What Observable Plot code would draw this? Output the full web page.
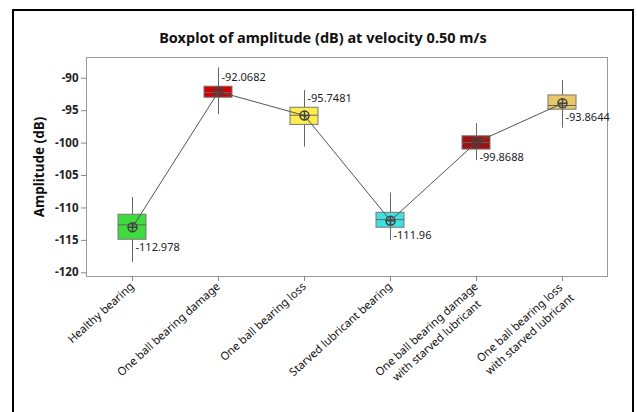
<!DOCTYPE html>
<html><head><meta charset="utf-8">
<script src="https://cdn.jsdelivr.net/npm/d3@7"></script>
<script src="https://cdn.jsdelivr.net/npm/@observablehq/plot@0.6"></script>
<style>
html,body{margin:0;padding:0;background:#fff;overflow:hidden}
#wrap{position:relative;width:637px;height:412px;font-family:"Noto Sans",sans-serif}
#frame{position:absolute;left:12px;top:9px;width:622px;height:420px;border:2px solid #000;box-sizing:border-box}
#title{position:absolute;left:13px;width:620px;top:28px;text-align:center;font-weight:bold;font-size:14.5px;line-height:18px;color:#111}
#chart{position:absolute;left:0;top:0}
</style></head><body>
<div id="wrap"><div id="frame"></div><div id="chart"></div><div id="title">Boxplot of amplitude (dB) at velocity 0.50 m/s</div></div>
<script>
const categories = ["Healthy bearing", "One ball bearing damage", "One ball bearing loss", "Starved lubricant bearing", "One ball bearing damage\nwith starved lubricant", "One ball bearing loss\nwith starved lubricant"];
const whiskerLow = [-118.4, -95.6, -100.6, -115.0, -102.7, -97.7];
const q1 = [-114.9, -93.0, -97.2, -113.05, -101.0, -94.85];
const median = [-112.6, -92.2, -95.7, -111.8, -99.9, -94.2];
const q3 = [-111.05, -91.3, -94.55, -110.75, -98.95, -92.65];
const whiskerHigh = [-108.4, -88.4, -91.9, -107.7, -97.0, -90.35];
const means = [-112.978, -92.0682, -95.7481, -111.96, -99.8688, -93.8644];
const meanLabels = ["-112.978", "-92.0682", "-95.7481", "-111.96", "-99.8688", "-93.8644"];
const yTicks = [-120, -115, -110, -105, -100, -95, -90];
const colors = ["#3fdc3f", "#d40000", "#ffec4f", "#3ee0e0", "#9e1212", "#e9c767"];
const labelSide = ["below", "above", "above", "below", "below", "below"];

const data = categories.map((c, i) => ({
  cat: c, lo: whiskerLow[i], q1: q1[i], med: median[i], q3: q3[i], hi: whiskerHigh[i],
  mean: means[i], label: meanLabels[i], color: colors[i], side: labelSide[i]
}));

const crossCircle = {
  draw(ctx, size) {
    const r = Math.sqrt(size / Math.PI);
    ctx.moveTo(r, 0); ctx.arc(0, 0, r, 0, 2 * Math.PI);
    ctx.moveTo(-r, 0); ctx.lineTo(r, 0);
    ctx.moveTo(0, -r); ctx.lineTo(0, r);
  }
};

const chart = Plot.plot({
  width: 637, height: 412,
  marginLeft: 86, marginRight: 30, marginTop: 57, marginBottom: 136,
  style: {fontFamily: "'Noto Sans', sans-serif", background: "transparent", overflow: "visible"},
  x: {type: "band", domain: categories, padding: 0, label: null},
  y: {domain: [-120.57, -86.8], label: null},
  color: {type: "identity"},
  marks: [
    Plot.frame({stroke: "#9a9a9a"}),
    Plot.axisY({ticks: yTicks, tickFormat: d => String(d), tickSize: 5, tickPadding: 3, stroke: "#888", fill: "#222", fontSize: 11.5, fontWeight: "bold", label: null}),
    Plot.axisX({tickSize: 5, tickFormat: () => "", stroke: "#888", label: null}),
    Plot.text(data, {x: "cat", text: "cat", frameAnchor: "bottom", rotate: -42, textAnchor: "end", lineAnchor: "top", lineHeight: 1.35, dx: -5, dy: 3, fontSize: 11.2, fill: "#111", className: "xlab"}),
    Plot.text(["Amplitude (dB)"], {frameAnchor: "left", rotate: -90, textAnchor: "middle", dx: -47, fontSize: 13.5, fontWeight: "bold", fill: "#111"}),
    Plot.ruleX(data, {x: "cat", y1: "lo", y2: "hi", stroke: "#666"}),
    Plot.barY(data, {x: "cat", y1: "q1", y2: "q3", fill: "color", stroke: "#777", insetLeft: 29, insetRight: 29}),
    Plot.tickY(data, {x: "cat", y: "med", stroke: "#666", insetLeft: 29, insetRight: 29}),
    Plot.line(data, {x: "cat", y: "mean", stroke: "#555", strokeWidth: 1}),
    Plot.dot(data, {x: "cat", y: "mean", symbol: crossCircle, r: 4.5, stroke: "#444", fill: "none"}),
    Plot.text(data.filter(d => d.side === "above"), {x: "cat", y: "q3", text: "label", dx: 3, dy: -9, textAnchor: "start", fontSize: 11, fill: "#222"}),
    Plot.text(data.filter(d => d.side === "below"), {x: "cat", y: "q1", text: "label", dx: 3, dy: 8, textAnchor: "start", fontSize: 11, fill: "#222"})
  ]
});
document.getElementById("chart").appendChild(chart);

// center the lines of multi-line tick labels within their block (as in the reference)
chart.querySelectorAll(".xlab text").forEach(t => {
  const spans = Array.from(t.querySelectorAll("tspan"));
  if (spans.length < 2) return;
  const widths = spans.map(s => s.getComputedTextLength());
  const maxW = Math.max(...widths);
  spans.forEach((s, i) => s.setAttribute("x", -(maxW - widths[i]) / 2));
});
</script>
</body></html>
